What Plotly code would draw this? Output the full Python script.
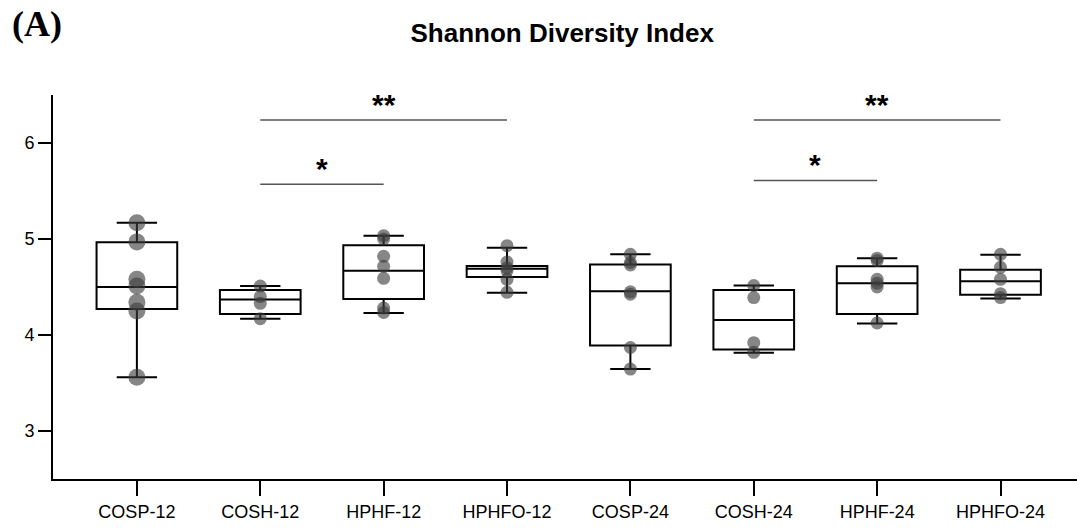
import plotly.graph_objects as go

categories = ["COSP-12", "COSH-12", "HPHF-12", "HPHFO-12",
              "COSP-24", "COSH-24", "HPHF-24", "HPHFO-24"]

lower_fence = [3.56, 4.17, 4.23, 4.44, 3.645, 3.815, 4.12, 4.38]
q1 = [4.27, 4.22, 4.375, 4.605, 3.89, 3.85, 4.22, 4.42]
median = [4.50, 4.37, 4.67, 4.69, 4.455, 4.155, 4.54, 4.56]
q3 = [4.965, 4.47, 4.935, 4.72, 4.735, 4.47, 4.715, 4.68]
upper_fence = [5.17, 4.51, 5.035, 4.91, 4.84, 4.515, 4.80, 4.835]

pts_cosp12 = [5.17, 4.97, 4.58, 4.51, 4.34, 4.25, 3.56]
pts_cosh12 = [4.51, 4.40, 4.33, 4.17]
pts_hphf12 = [5.035, 5.00, 4.82, 4.715, 4.59, 4.28, 4.235]
pts_hphfo12 = [4.93, 4.76, 4.70, 4.67, 4.58, 4.445]
pts_cosp24 = [4.84, 4.755, 4.73, 4.45, 4.425, 3.87, 3.645]
pts_cosh24 = [4.515, 4.39, 3.92, 3.82]
pts_hphf24 = [4.80, 4.775, 4.58, 4.54, 4.50, 4.125]
pts_hphfo24 = [4.84, 4.705, 4.58, 4.43, 4.39]

# significance brackets: (from category, to category, y level, label)
sig_from = ["COSH-12", "COSH-12", "COSH-24", "COSH-24"]
sig_to = ["HPHFO-12", "HPHF-12", "HPHFO-24", "HPHF-24"]
sig_y = [6.24, 5.57, 6.24, 5.61]
sig_label = ["**", "*", "**", "*"]

points = [pts_cosp12, pts_cosh12, pts_hphf12, pts_hphfo12,
          pts_cosp24, pts_cosh24, pts_hphf24, pts_hphfo24]

FONT = "Arial, Liberation Sans, sans-serif"

fig = go.Figure()
fig.add_trace(go.Box(
    x=categories, q1=q1, median=median, q3=q3,
    lowerfence=lower_fence, upperfence=upper_fence,
    boxpoints=False, width=0.654, whiskerwidth=0.5,
    line=dict(color="black", width=2),
    fillcolor="rgba(0,0,0,0)", showlegend=False, hoverinfo="skip"))

for i, (cat, vals) in enumerate(zip(categories, points)):
    fig.add_trace(go.Scatter(
        x=[cat] * len(vals), y=vals, mode="markers",
        marker=dict(size=17 if i == 0 else 13, color="rgba(60,60,60,0.62)",
                    line=dict(width=0)),
        showlegend=False, hoverinfo="skip"))

for a, b, y, lab in zip(sig_from, sig_to, sig_y, sig_label):
    ia, ib = categories.index(a), categories.index(b)
    fig.add_shape(type="line", xref="x", yref="y", x0=ia, x1=ib, y0=y, y1=y,
                  line=dict(color="#555555", width=1.4))
    fig.add_annotation(x=(ia + ib) / 2, y=y, xref="x", yref="y", text="<b>" + lab + "</b>",
                       showarrow=False, yanchor="bottom", yshift=-3,
                       font=dict(family=FONT, size=30, color="black"))

fig.add_annotation(x=(37 - 53) / 1024, y=(479 - 24) / 384, xref="paper", yref="paper",
                   text="<b>(A)</b>", showarrow=False, xanchor="center", yanchor="middle",
                   font=dict(family="Liberation Serif, Times New Roman, serif", size=36, color="black"))

fig.update_layout(
    width=1077, height=529,
    margin=dict(l=53, r=0, t=95, b=50),
    paper_bgcolor="white", plot_bgcolor="white",
    title=dict(text="<b>Shannon Diversity Index</b>", x=0.522, xanchor="center",
               y=1 - 33 / 529, yanchor="middle", yref="container",
               font=dict(family=FONT, size=26, color="black")),
    xaxis=dict(type="category", categoryorder="array", categoryarray=categories,
               range=[-0.68, 7.62], showgrid=False, zeroline=False,
               showline=True, linecolor="black", linewidth=2,
               ticks="outside", ticklen=15, tickwidth=2, tickcolor="black",
               tickfont=dict(family=FONT, size=18, color="black")),
    yaxis=dict(range=[2.5, 6.5], tickvals=[3, 4, 5, 6], showgrid=False, zeroline=False,
               showline=True, linecolor="black", linewidth=2,
               ticks="outside", ticklen=13, tickwidth=2, tickcolor="black",
               tickfont=dict(family=FONT, size=18, color="black")),
)

fig.write_html("out.html")
